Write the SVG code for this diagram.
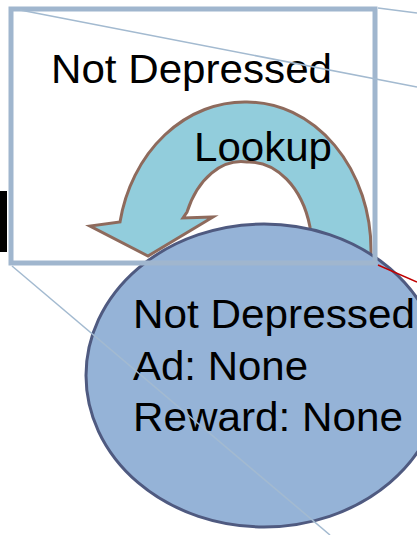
<svg xmlns="http://www.w3.org/2000/svg" width="417" height="535" viewBox="0 0 417 535">
<style>
text{font-family:"Liberation Sans",Arial,sans-serif;font-size:40px;fill:#000}
.thin{stroke:#a3bad0;stroke-width:1.5;fill:none}
</style>
<rect width="417" height="535" fill="#fff"/>
<rect id="blackbar" x="0" y="191" width="7" height="61" fill="#000"/>
<g id="lookup-arrow">
<path d="M371,260 L371,250 A124,148 0 0 0 247,102 A127,148 0 0 0 120,222 L90,226 L148,256 L213,217 L183,218 L187,212 A60,88 0 0 1 247,162 A63,88 0 0 1 310,227 L310,262 Z" fill="#92cddc" stroke="#8e6a5c" stroke-width="3" stroke-linejoin="miter"/>
</g>
<g id="state-ellipse">
<ellipse cx="264" cy="375.5" rx="178" ry="151.5" fill="#95b3d7" stroke="#4f5a80" stroke-width="3"/>
<text x="133" y="328" textLength="282" lengthAdjust="spacingAndGlyphs">Not Depressed</text>
<text x="133" y="380" textLength="175" lengthAdjust="spacingAndGlyphs">Ad: None</text>
<text x="133" y="431" textLength="270" lengthAdjust="spacingAndGlyphs">Reward: None</text>
</g>
<g id="frame">
<rect x="11" y="9" width="364" height="254" fill="none" stroke="#a0b6ce" stroke-width="5"/>
<text x="51" y="83" textLength="281" lengthAdjust="spacingAndGlyphs">Not Depressed</text>
<text x="194" y="161" textLength="138" lengthAdjust="spacingAndGlyphs">Lookup</text>
</g>
<g id="connectors">
<line class="thin" x1="20" y1="10" x2="417" y2="87"/>
<line class="thin" x1="378" y1="8" x2="417" y2="13"/>
<line class="thin" x1="12" y1="266" x2="330" y2="535" stroke="#b2c7d8"/>
<line x1="378" y1="265" x2="417" y2="282" stroke="#c00000" stroke-width="1.5"/>
</g>
</svg>
